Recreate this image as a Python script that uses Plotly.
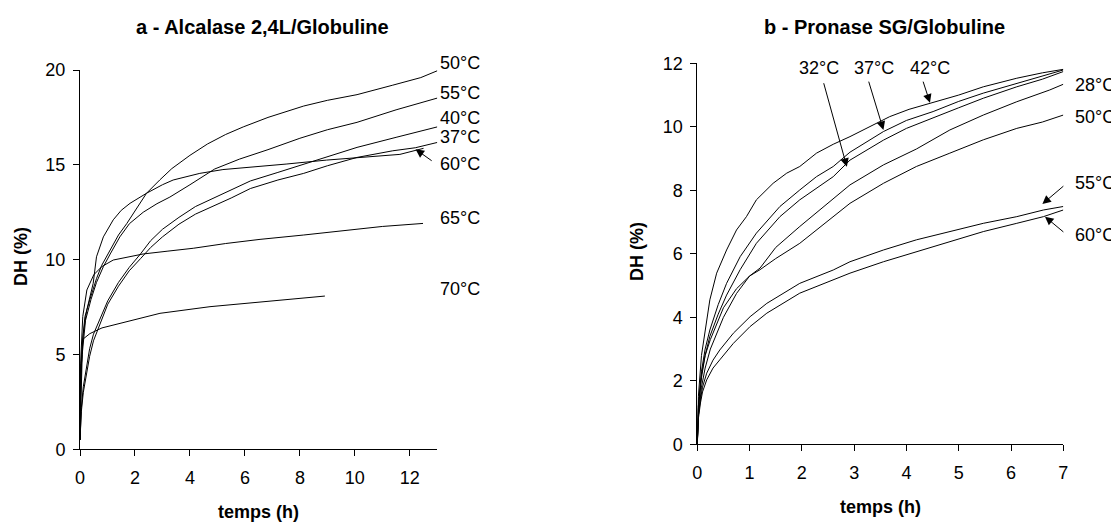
import plotly.graph_objects as go

# ---------------- Panel a : Alcalase 2,4L / Globuline ----------------
a_labels = ["50°C", "55°C", "40°C", "37°C", "60°C", "65°C", "70°C"]

a_t_50 = [0, 0.03, 0.08, 0.18, 0.36, 0.6, 0.79, 1.09, 1.4, 1.7, 2.05, 2.42, 2.9, 3.34, 4.0, 4.64, 5.3, 5.94, 6.84, 8.14, 9.0, 10.08, 11.38, 12.4, 13.0]
a_v_50 = [0.5, 3.5, 5.6, 7.0, 7.9, 9.0, 9.7, 10.5, 11.3, 11.9, 12.7, 13.5, 14.2, 14.8, 15.5, 16.1, 16.6, 17.0, 17.5, 18.1, 18.4, 18.7, 19.2, 19.6, 19.96]

a_t_55 = [0, 0.03, 0.08, 0.2, 0.4, 0.6, 0.85, 1.1, 1.45, 1.8, 2.3, 2.8, 3.27, 4.0, 4.9, 5.8, 6.84, 8.0, 9.0, 10.08, 11.5, 13.0]
a_v_55 = [0.5, 3.0, 5.0, 6.8, 7.9, 8.8, 9.63, 10.3, 11.2, 11.9, 12.5, 12.95, 13.3, 13.95, 14.78, 15.3, 15.8, 16.4, 16.85, 17.24, 17.9, 18.52]

a_t_40 = [0, 0.05, 0.12, 0.23, 0.35, 0.49, 0.75, 1.01, 1.4, 1.79, 2.2, 2.57, 3.0, 3.6, 4.2, 4.9, 5.5, 6.2, 7.2, 8.14, 9.0, 10.08, 11.5, 13.0]
a_v_40 = [0.5, 2.2, 3.3, 4.3, 5.3, 6.07, 7.0, 7.83, 8.8, 9.59, 10.3, 11.0, 11.6, 12.23, 12.8, 13.28, 13.7, 14.15, 14.6, 15.04, 15.45, 15.92, 16.45, 17.0]

a_t_37 = [0, 0.05, 0.12, 0.23, 0.35, 0.49, 0.75, 1.01, 1.4, 1.79, 2.2, 2.57, 3.0, 3.6, 4.2, 4.9, 5.5, 6.2, 7.2, 8.14, 9.0, 10.08, 11.38, 12.2, 13.0]
a_v_37 = [0.5, 2.0, 3.0, 3.96, 4.9, 5.72, 6.7, 7.65, 8.6, 9.41, 10.05, 10.64, 11.2, 11.87, 12.4, 12.84, 13.25, 13.75, 14.2, 14.55, 14.95, 15.39, 15.74, 15.9, 16.18]

a_t_60 = [0, 0.03, 0.12, 0.24, 0.48, 0.6, 0.85, 1.21, 1.5, 1.82, 2.42, 3.0, 3.39, 4.36, 5.2, 6.55, 7.5, 8.97, 10.3, 11.64, 12.5]
a_v_60 = [0.5, 4.0, 6.1, 7.3, 8.75, 10.15, 11.2, 12.1, 12.6, 12.97, 13.5, 13.95, 14.2, 14.55, 14.75, 14.9, 15.04, 15.25, 15.4, 15.55, 15.87]

a_t_65 = [0, 0.02, 0.1, 0.25, 0.5, 0.79, 1.21, 2.3, 3.2, 4.12, 5.3, 6.55, 8.14, 9.5, 11.0, 12.48]
a_v_65 = [0.5, 4.5, 7.0, 8.4, 9.2, 9.63, 9.98, 10.3, 10.45, 10.6, 10.85, 11.07, 11.3, 11.5, 11.75, 11.91]

a_t_70 = [0, 0.02, 0.1, 0.36, 0.8, 1.7, 2.91, 4.73, 6.55, 7.8, 8.91]
a_v_70 = [0.5, 3.5, 5.8, 6.1, 6.4, 6.73, 7.17, 7.52, 7.78, 7.95, 8.08]

a_label_x = 13.02
a_label_y = [20.35, 18.77, 17.45, 16.45, 15.04, 12.18, 8.43]
a_arrow = (12.85, 15.16, 12.21, 15.82)   # tail x, tail y, tip x, tip y

# ---------------- Panel b : Pronase SG / Globuline ----------------
b_labels = ["32°C", "37°C", "42°C", "28°C", "50°C", "55°C", "60°C"]

b_t_42 = [0, 0.02, 0.08, 0.15, 0.24, 0.37, 0.56, 0.75, 0.94, 1.13, 1.45, 1.71, 1.96, 2.28, 2.6, 2.92, 3.3, 3.68, 4.05, 4.45, 5.0, 5.47, 6.11, 6.6, 7.0]
b_v_42 = [0, 1.5, 2.8, 3.6, 4.55, 5.39, 6.12, 6.75, 7.17, 7.7, 8.22, 8.54, 8.75, 9.17, 9.45, 9.69, 10.0, 10.32, 10.55, 10.74, 11.0, 11.26, 11.53, 11.7, 11.81]

b_t_37 = [0, 0.02, 0.08, 0.15, 0.24, 0.4, 0.56, 0.82, 1.13, 1.58, 1.96, 2.28, 2.6, 2.92, 3.56, 4.0, 4.51, 5.0, 5.47, 6.11, 6.6, 7.0]
b_v_37 = [0, 1.2, 2.3, 3.0, 3.6, 4.4, 5.07, 5.91, 6.65, 7.49, 8.01, 8.43, 8.75, 9.2, 9.85, 10.2, 10.48, 10.8, 11.06, 11.37, 11.6, 11.79]

b_t_32 = [0, 0.02, 0.08, 0.15, 0.24, 0.4, 0.56, 0.82, 1.13, 1.58, 1.96, 2.3, 2.6, 2.92, 3.56, 4.0, 4.51, 5.0, 5.47, 6.11, 6.6, 7.0]
b_v_32 = [0, 1.1, 2.1, 2.8, 3.4, 4.1, 4.7, 5.5, 6.33, 7.17, 7.7, 8.1, 8.43, 8.95, 9.58, 9.95, 10.27, 10.6, 10.9, 11.26, 11.5, 11.74]

b_t_28 = [0, 0.02, 0.08, 0.15, 0.25, 0.5, 0.75, 1.0, 1.2, 1.5, 1.96, 2.5, 2.92, 3.56, 4.19, 4.83, 5.47, 6.11, 6.74, 7.0]
b_v_28 = [0, 0.9, 1.8, 2.4, 3.0, 4.0, 4.75, 5.3, 5.55, 6.2, 6.86, 7.6, 8.17, 8.8, 9.3, 9.9, 10.37, 10.79, 11.16, 11.34]

b_t_50 = [0, 0.02, 0.08, 0.15, 0.25, 0.5, 0.75, 1.0, 1.2, 1.5, 1.96, 2.5, 2.92, 3.56, 4.19, 4.83, 5.47, 6.11, 6.6, 7.0]
b_v_50 = [0, 1.2, 2.2, 2.8, 3.3, 4.3, 4.9, 5.3, 5.5, 5.85, 6.33, 7.05, 7.59, 8.22, 8.75, 9.17, 9.59, 9.95, 10.15, 10.37]

b_t_5560 = [0, 0.02, 0.06, 0.1, 0.18, 0.3, 0.43, 0.69, 1.01, 1.33, 1.96, 2.6, 2.92, 3.56, 4.19, 4.83, 5.47, 6.11, 6.62, 7.0]
b_v_55 = [0, 0.9, 1.4, 1.8, 2.24, 2.65, 2.97, 3.5, 4.02, 4.44, 5.07, 5.49, 5.75, 6.12, 6.44, 6.7, 6.96, 7.17, 7.38, 7.49]
b_v_60 = [0, 0.8, 1.3, 1.65, 2.03, 2.4, 2.66, 3.18, 3.71, 4.13, 4.76, 5.18, 5.39, 5.75, 6.07, 6.38, 6.7, 6.96, 7.17, 7.38]

b_lab_x = [2.33, 3.38, 4.46, 7.19, 7.19, 7.19, 7.19]
b_lab_y = [11.84, 11.84, 11.84, 11.32, 10.32, 8.22, 6.59]
b_arrows = [(2.41, 11.42, 2.86, 8.74),
            (3.27, 11.47, 3.56, 9.9),
            (4.31, 11.47, 4.45, 10.76),
            (7.03, 8.17, 6.6, 7.57),
            (7.03, 6.65, 6.65, 7.17)]

FONT = "Arial, Liberation Sans, sans-serif"
W, H = 1119, 524
OFF = 8  # page body margin of the written html page

# plot-area placement on the page (pixels)
A_X0, A_X1, A_Y0, A_Y1 = 80.0, 437.3, 449.3, 70.0
B_X0, B_X1, B_Y0, B_Y1 = 697.3, 1063.3, 444.3, 63.3
A_XR, A_YR = (0, 13), (0, 20)
B_XR, B_YR = (0, 7), (0, 12)


def px2paper(px, py):
    return (px - OFF) / W, 1 - (py - OFF) / H


def a2paper(x, y):
    px = A_X0 + (x - A_XR[0]) / (A_XR[1] - A_XR[0]) * (A_X1 - A_X0)
    py = A_Y0 - (y - A_YR[0]) / (A_YR[1] - A_YR[0]) * (A_Y0 - A_Y1)
    return px2paper(px, py)


def b2paper(x, y):
    px = B_X0 + (x - B_XR[0]) / (B_XR[1] - B_XR[0]) * (B_X1 - B_X0)
    py = B_Y0 - (y - B_YR[0]) / (B_YR[1] - B_YR[0]) * (B_Y0 - B_Y1)
    return px2paper(px, py)


fig = go.Figure()
line = dict(color="black", width=1)

for t, v in [(a_t_50, a_v_50), (a_t_55, a_v_55), (a_t_40, a_v_40), (a_t_37, a_v_37),
             (a_t_60, a_v_60), (a_t_65, a_v_65), (a_t_70, a_v_70)]:
    fig.add_trace(go.Scatter(x=t, y=v, mode="lines", line=line, xaxis="x", yaxis="y",
                             showlegend=False, hoverinfo="skip"))

for t, v in [(b_t_42, b_v_42), (b_t_37, b_v_37), (b_t_32, b_v_32), (b_t_28, b_v_28),
             (b_t_50, b_v_50), (b_t_5560, b_v_55), (b_t_5560, b_v_60)]:
    fig.add_trace(go.Scatter(x=t, y=v, mode="lines", line=line, xaxis="x2", yaxis="y2",
                             showlegend=False, hoverinfo="skip"))

lab_font = dict(family=FONT, size=18, color="black")
ann = []
for lab, y in zip(a_labels, a_label_y):
    px, py = a2paper(a_label_x, y)
    ann.append(dict(x=px, y=py, xref="paper", yref="paper", text=lab, showarrow=False,
                    xanchor="left", yanchor="middle", font=lab_font))
for lab, x, y in zip(b_labels, b_lab_x, b_lab_y):
    px, py = b2paper(x, y)
    xa = "center" if x < 7 else "left"
    ann.append(dict(x=px, y=py, xref="paper", yref="paper", text=lab, showarrow=False,
                    xanchor=xa, yanchor="middle", font=lab_font))

arrow_style = dict(text="", showarrow=True, arrowhead=2, arrowsize=1.7, arrowwidth=1,
                   arrowcolor="black")
tx, ty, hx, hy = a_arrow
ann.append(dict(x=hx, y=hy, ax=tx, ay=ty, xref="x", yref="y", axref="x", ayref="y", **arrow_style))
for tx, ty, hx, hy in b_arrows:
    ann.append(dict(x=hx, y=hy, ax=tx, ay=ty, xref="x2", yref="y2", axref="x2", ayref="y2",
                    **arrow_style))

titles = [("<b>a - Alcalase 2,4L/Globuline</b>", 262, 27, 20, 0, "middle"),
          ("<b>b - Pronase SG/Globuline</b>", 884, 27, 20, 0, "middle"),
          ("<b>temps (h)</b>", 258, 524, 18, 0, "bottom"),
          ("<b>temps (h)</b>", 880, 519, 18, 0, "bottom"),
          ("<b>DH (%)</b>", 21, 257, 18, -90, "middle"),
          ("<b>DH (%)</b>", 637, 252, 18, -90, "middle")]
for txt, px, py, sz, ang, ya in titles:
    x, y = px2paper(px, py)
    ann.append(dict(x=x, y=y, xref="paper", yref="paper", text=txt, showarrow=False,
                    xanchor="center", yanchor=ya, textangle=ang,
                    font=dict(family=FONT, size=sz, color="black")))

ax_common = dict(showline=True, linecolor="black", linewidth=1, showgrid=False, zeroline=False,
                 ticks="outside", ticklen=6, tickcolor="black", tickwidth=1,
                 tickfont=dict(family=FONT, size=18, color="black"), mirror=False, automargin=False,
                 fixedrange=True)

ax0, ay0 = px2paper(A_X0, A_Y0)
ax1, ay1 = px2paper(A_X1, A_Y1)
bx0, by0 = px2paper(B_X0, B_Y0)
bx1, by1 = px2paper(B_X1, B_Y1)

fig.update_layout(
    width=W, height=H, paper_bgcolor="white", plot_bgcolor="white",
    margin=dict(l=0, r=0, t=0, b=0),
    xaxis=dict(domain=[ax0, ax1], range=list(A_XR), tickvals=[0, 2, 4, 6, 8, 10, 12],
               anchor="y", ticklabelstandoff=6, **ax_common),
    yaxis=dict(domain=[ay0, ay1], range=list(A_YR), tickvals=[0, 5, 10, 15, 20],
               anchor="x", ticklabelstandoff=4, **ax_common),
    xaxis2=dict(domain=[bx0, bx1], range=list(B_XR), tickvals=list(range(8)),
                anchor="y2", ticklabelstandoff=6, **ax_common),
    yaxis2=dict(domain=[by0, by1], range=list(B_YR), tickvals=[0, 2, 4, 6, 8, 10, 12],
                anchor="x2", ticklabelstandoff=4, **ax_common),
    annotations=ann,
)

fig.write_html("out.html")
